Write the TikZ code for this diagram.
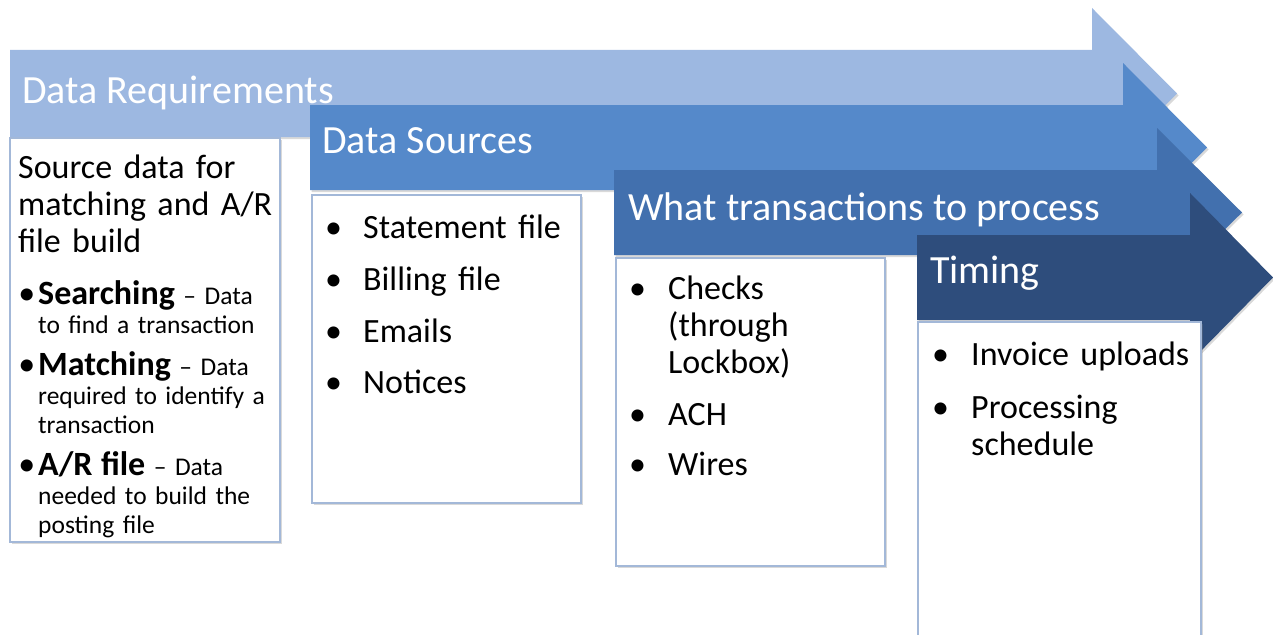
\documentclass[tikz,border=0pt]{standalone}
\usepackage{fontspec}
\setmainfont{Carlito}
\usetikzlibrary{shadows}

\definecolor{stageA}{HTML}{9DB8E1}
\definecolor{stageB}{HTML}{5589CA}
\definecolor{stageC}{HTML}{4270AE}
\definecolor{stageD}{HTML}{2E4D7C}
\definecolor{boxline}{HTML}{A3B8D8}

\tikzset{
  stagearrow/.style={drop shadow={shadow xshift=1.5pt, shadow yshift=-2pt, opacity=0.3}},
  panel/.style={fill=white, draw=boxline, line width=1.2pt,
    drop shadow={shadow xshift=1.5pt, shadow yshift=-2pt, opacity=0.3}},
  title/.style={text=white, inner sep=0pt, anchor=base west,
    font=\fontsize{40}{48}\selectfont},
  bodytext/.style={text=black, inner sep=0pt, anchor=base west, align=left,
    text width=#1, font=\fontsize{34}{37}\selectfont},
  bodytext/.default=260pt,
  subitem/.style={text=black, inner sep=0pt, anchor=base west, align=left,
    text width=250pt, font=\fontsize{25.5}{29}\selectfont},
}
\newcommand\bigdot[1]{\llap{\makebox[#1][l]{•}}}
\newcommand\keyword[1]{\llap{\fontsize{34}{29}\selectfont•\hspace{3pt}}{\bfseries\fontsize{34}{29}\selectfont #1}}

\begin{document}
\begin{tikzpicture}[x=1pt, y=-1pt]
\useasboundingbox (0,0) rectangle (1273,634);
\clip (0,0) rectangle (1273,634);

% stage arrows, back to front
\fill[stageA, stagearrow] (10,50) -- (1092,50) -- (1092,8) -- (1177,93.5)
  -- (1092,179) -- (1092,137) -- (10,137) -- cycle;
\fill[stageB, stagearrow] (310,105) -- (1123,105) -- (1123,63) -- (1207,147.5)
  -- (1123,232) -- (1123,190) -- (310,190) -- cycle;
\fill[stageC, stagearrow] (614,170) -- (1157,170) -- (1157,128) -- (1242,212.5)
  -- (1157,297) -- (1157,255) -- (614,255) -- cycle;
\fill[stageD, stagearrow] (917,235) -- (1190,235) -- (1190,193) -- (1273,277.5)
  -- (1190,362) -- (1190,320) -- (917,320) -- cycle;

% stage titles
\node[title] (tReq) at (22,103) {Data Requirements};
\node[title] (tSrc) at (322,153) {Data Sources};
\node[title] (tTrx) at (628,220) {What transactions to process};
\node[title] (tTim) at (930,283) {Timing};

% white panels under each stage
\draw[panel] (10,138) rectangle (280,542);
\draw[panel] (312,195) rectangle (581,503);
\draw[panel] (616,258) rectangle (885,566);
\draw[panel] (918,322) rectangle (1201,660);

% panel 1
\node[bodytext, text width=255pt] (reqHead) at (18,178)
  {Source data for\\matching and A/R\\file build};
\node[subitem] (reqSearch) at (38,304)
  {\keyword{Searching} – Data\\to find a transaction};
\node[subitem] (reqMatch) at (38,375)
  {\keyword{Matching} – Data\\required to identify a\\transaction};
\node[subitem] (reqAR) at (38,475)
  {\keyword{A/R file} – Data\\needed to build the\\posting file};

% panel 2
\node[bodytext] (srcStmt) at (363,238) {\bigdot{38pt}Statement file};
\node[bodytext] (srcBill) at (363,290) {\bigdot{38pt}Billing file};
\node[bodytext] (srcMail) at (363,342) {\bigdot{38pt}Emails};
\node[bodytext] (srcNote) at (363,393) {\bigdot{38pt}Notices};

% panel 3
\node[bodytext, text width=200pt] (trxChk) at (668,299)
  {\bigdot{39pt}Checks\\(through\\Lockbox)};
\node[bodytext] (trxACH) at (668,425) {\bigdot{39pt}ACH};
\node[bodytext] (trxWire) at (668,475) {\bigdot{39pt}Wires};

% panel 4
\node[bodytext, text width=225pt] (timInv) at (971,365) {\bigdot{39pt}Invoice uploads};
\node[bodytext, text width=225pt] (timProc) at (971,418)
  {\bigdot{39pt}Processing\\schedule};
\end{tikzpicture}
\end{document}
